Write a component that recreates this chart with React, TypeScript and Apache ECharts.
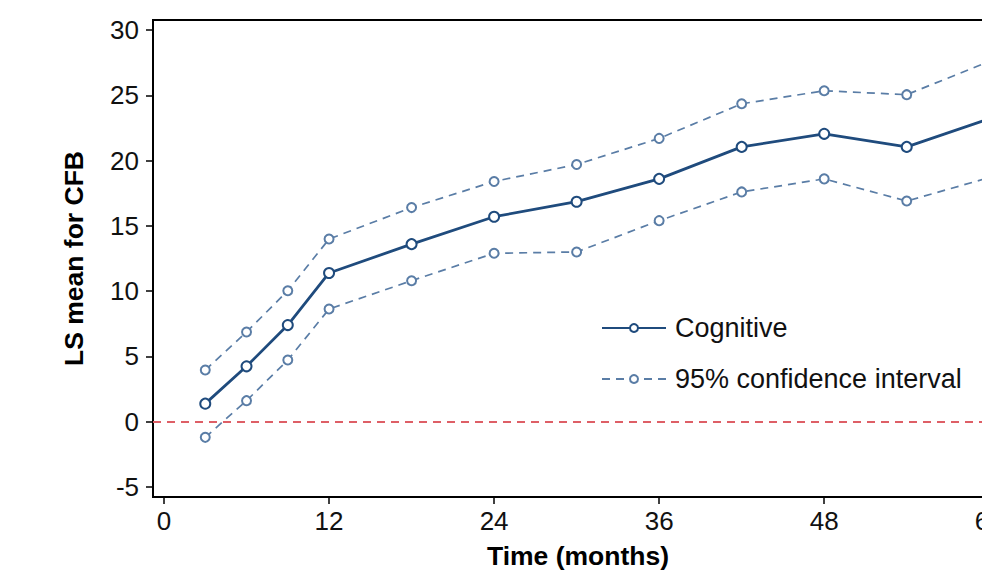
import React, { useEffect, useRef } from "react";
import * as echarts from "echarts";

const months = [3, 6, 9, 12, 18, 24, 30, 36, 42, 48, 54, 60];
const meanCFB = [1.38, 4.24, 7.4, 11.39, 13.6, 15.7, 16.85, 18.6, 21.05, 22.05, 21.05, 23.2];
const upperCI = [3.96, 6.87, 10.03, 13.99, 16.4, 18.4, 19.7, 21.7, 24.35, 25.35, 25.05, 27.6];
const lowerCI = [-1.2, 1.61, 4.72, 8.63, 10.8, 12.9, 13.0, 15.4, 17.6, 18.6, 16.9, 18.7];
const xTicks = [0, 12, 24, 36, 48, 60];
const yTicks = [-5, 0, 5, 10, 15, 20, 25, 30];

const FONT = "'Liberation Sans', Arial, Helvetica, sans-serif";
const NAVY = "#1f4b7d";
const CI = "#5a7da6";
const RED = "#de5f66";

export default function App() {
  const ref = useRef<HTMLDivElement>(null);
  useEffect(() => {
    if (!ref.current) return;
    const chart = echarts.init(ref.current, undefined, { renderer: "svg" });
    const pair = (ys: number[]) => months.map((m, i) => [m, ys[i]]);
    chart.setOption({
      animation: false,
      backgroundColor: "#fff",
      grid: {
        left: 153,
        top: 20,
        width: 850,
        height: 477,
        show: true,
        borderColor: "#000",
        borderWidth: 2,
        outerBoundsMode: "none",
      },
      legend: {
        left: 601,
        top: 313,
        padding: 0,
        orient: "vertical",
        itemWidth: 64,
        itemHeight: 10,
        itemGap: 21,
        data: ["Cognitive", "95% confidence interval"],
        textStyle: {
          fontFamily: FONT,
          fontSize: 27,
          color: "#111",
          lineHeight: 30,
          padding: [0, 0, 0, 4],
        },
      },
      xAxis: {
        type: "value",
        min: -0.8,
        max: 61,
        name: "Time (months)",
        nameLocation: "middle",
        nameGap: 45,
        nameTextStyle: { fontFamily: FONT, fontSize: 26.5, fontWeight: "bold", color: "#000" },
        splitLine: { show: false },
        axisLine: { show: true, onZero: false, lineStyle: { color: "#000", width: 2 } },
        axisTick: { show: true, customValues: xTicks, length: 7, lineStyle: { color: "#000", width: 1.5 } },
        axisLabel: { customValues: xTicks, margin: 11, fontFamily: FONT, fontSize: 26, color: "#111" },
      },
      yAxis: {
        type: "value",
        min: -5.77,
        max: 30.77,
        name: "LS mean for CFB",
        nameLocation: "middle",
        nameGap: 66,
        nameTextStyle: { fontFamily: FONT, fontSize: 26.5, fontWeight: "bold", color: "#000" },
        splitLine: { show: false },
        axisLine: { show: true, onZero: false, lineStyle: { color: "#000", width: 2 } },
        axisTick: { show: true, customValues: yTicks, length: 7, lineStyle: { color: "#000", width: 1.5 } },
        axisLabel: { customValues: yTicks, margin: 14, fontFamily: FONT, fontSize: 26, color: "#111" },
      },
      series: [
        {
          name: "95% confidence interval",
          type: "line",
          data: pair(upperCI),
          symbol: "emptyCircle",
          symbolSize: 9,
          lineStyle: { color: CI, width: 1.7, type: [8, 6] },
          itemStyle: { color: CI, borderColor: CI, borderWidth: 1.4 },
          markLine: {
            silent: true,
            symbol: "none",
            label: { show: false },
            lineStyle: { color: RED, width: 1.8, type: [8, 6] },
            data: [{ yAxis: 0 }],
          },
        },
        {
          name: "95% confidence interval",
          type: "line",
          data: pair(lowerCI),
          symbol: "emptyCircle",
          symbolSize: 9,
          lineStyle: { color: CI, width: 1.7, type: [8, 6] },
          itemStyle: { color: CI, borderColor: CI, borderWidth: 1.4 },
        },
        {
          name: "Cognitive",
          type: "line",
          data: pair(meanCFB),
          symbol: "emptyCircle",
          symbolSize: 10,
          lineStyle: { color: NAVY, width: 2.8 },
          itemStyle: { color: NAVY, borderColor: NAVY, borderWidth: 2.3 },
        },
      ],
    });
    return () => chart.dispose();
  }, []);
  return (
    <div
      ref={ref}
      style={{ position: "fixed", left: 0, top: 0, width: 982, height: 570, background: "#fff" }}
    />
  );
}
